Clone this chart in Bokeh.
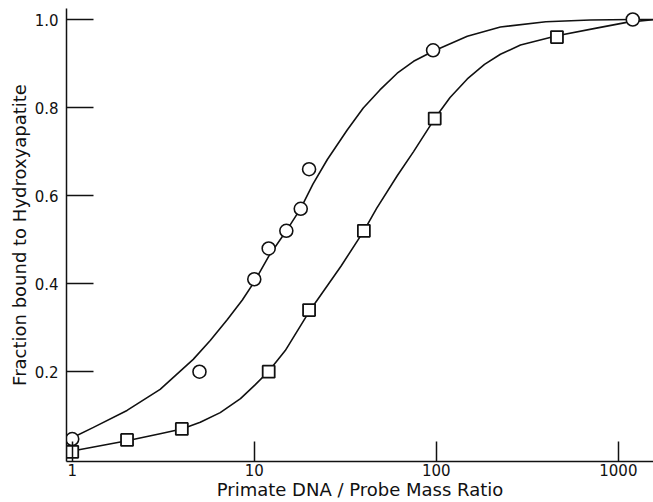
from bokeh.plotting import figure
from bokeh.models import Range1d, FixedTicker
from bokeh.embed import file_html
from bokeh.resources import INLINE

# --- data ---
circle_x = [1, 5, 10, 12, 15, 18, 20, 96, 1200]
circle_y = [0.047, 0.20, 0.41, 0.48, 0.52, 0.57, 0.66, 0.93, 1.0]

square_x = [1, 2, 4, 12, 20, 40, 98, 460]
square_y = [0.018, 0.045, 0.07, 0.20, 0.34, 0.52, 0.775, 0.96]

circle_curve_x = [1, 1.3, 2, 3.04, 4.62, 5.73, 7.1, 8.6, 10, 12, 15, 18, 21, 25.2, 32.4, 39.7,
                  49, 61, 75, 96, 148, 225, 400, 700, 1200, 1600]
circle_curve_y = [0.050, 0.073, 0.112, 0.160, 0.228, 0.271, 0.318, 0.363, 0.404, 0.462, 0.520,
                  0.571, 0.626, 0.682, 0.749, 0.799, 0.840, 0.878, 0.905, 0.928, 0.962, 0.983,
                  0.995, 0.999, 1.0, 1.0]

square_curve_x = [1, 2, 3.04, 4, 5.05, 6.5, 8.4, 10.1, 12, 14.8, 20, 30, 40, 47, 61, 75, 98,
                  119, 148, 184, 225, 290, 460, 770, 1130, 1600]
square_curve_y = [0.020, 0.043, 0.059, 0.070, 0.085, 0.107, 0.139, 0.170, 0.201, 0.248, 0.336,
                  0.440, 0.520, 0.571, 0.645, 0.700, 0.775, 0.823, 0.865, 0.898, 0.921, 0.942,
                  0.963, 0.981, 0.994, 1.0]

x_ticks = [1, 10, 100, 1000]
x_tick_labels = ["1", "10", "100", "1000"]
y_ticks = [0.2, 0.4, 0.6, 0.8, 1.0]
y_tick_labels = ["0.2", "0.4", "0.6", "0.8", "1.0"]

x_title = "Primate DNA / Probe Mass Ratio"
y_title = "Fraction bound to Hydroxyapatite"

FONT = "DejaVu Sans"
INK = "#111111"

p = figure(width=653, height=502, x_axis_type="log",
           x_range=Range1d(0.93, 1560), y_range=Range1d(-0.004, 1.025),
           output_backend="svg", toolbar_location=None,
           min_border_left=66, min_border_right=0, min_border_top=8, min_border_bottom=38)

p.xgrid.visible = False
p.ygrid.visible = False
p.outline_line_color = None
p.background_fill_color = "white"
p.border_fill_color = "white"

p.line(circle_curve_x, circle_curve_y, line_color=INK, line_width=1.6, line_join="round")
p.line(square_curve_x, square_curve_y, line_color=INK, line_width=1.6, line_join="round")

p.scatter(circle_x, circle_y, marker="circle", size=13, fill_color="white",
          line_color=INK, line_width=1.6)
p.scatter(square_x, square_y, marker="square", size=12, fill_color="white",
          line_color=INK, line_width=1.8)

# axes
xa = p.xaxis[0]
xa.ticker = FixedTicker(ticks=x_ticks, minor_ticks=[])
xa.major_label_overrides = {t: l for t, l in zip(x_ticks, x_tick_labels)}
xa.major_tick_in = 20
xa.major_tick_out = 0
xa.minor_tick_in = 0
xa.minor_tick_out = 0
xa.major_tick_line_width = 1.5
xa.major_tick_line_color = INK
xa.axis_line_width = 1.5
xa.axis_line_color = INK
xa.major_label_standoff = 2
xa.axis_label = x_title
xa.axis_label_standoff = 0
xa.axis_label_text_font = FONT
xa.axis_label_text_font_style = "normal"
xa.axis_label_text_font_size = "18px"
xa.axis_label_text_color = INK
xa.major_label_text_font = FONT
xa.major_label_text_font_size = "15px"
xa.major_label_text_color = INK

ya = p.yaxis[0]
ya.ticker = FixedTicker(ticks=y_ticks, minor_ticks=[])
ya.major_label_overrides = {t: l for t, l in zip(y_ticks, y_tick_labels)}
ya.major_tick_in = 27
ya.major_tick_out = 0
ya.minor_tick_in = 0
ya.minor_tick_out = 0
ya.major_tick_line_width = 1.5
ya.major_tick_line_color = INK
ya.axis_line_width = 1.5
ya.axis_line_color = INK
ya.major_label_standoff = 8
ya.axis_label = y_title
ya.axis_label_standoff = 2
ya.axis_label_text_font = FONT
ya.axis_label_text_font_style = "normal"
ya.axis_label_text_font_size = "18px"
ya.axis_label_text_color = INK
ya.major_label_text_font = FONT
ya.major_label_text_font_size = "15px"
ya.major_label_text_color = INK

open("out.html", "w").write(file_html(p, INLINE))
